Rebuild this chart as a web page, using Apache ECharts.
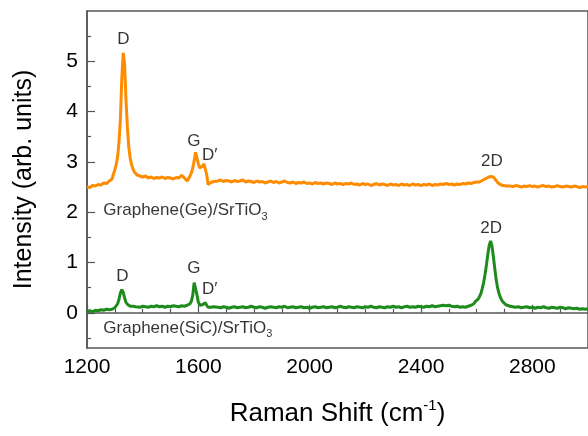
<!DOCTYPE html>
<html>
<head>
<meta charset="utf-8">
<script src="https://cdn.jsdelivr.net/npm/echarts@6/dist/echarts.min.js"></script>
<style>
    html,body{margin:0;padding:0;background:#fff;}
    #raman{width:588px;height:436px;}
</style>
</head>
<body>
<div id="raman"></div>
<script>
// Raman shift (cm-1), finer steps around the peaks
var shift = [
    1200,1210,1220,1230,1240,1250,1260,1270,1280,1290,
    1295,1300,1305,1310,1315,1320,1325,1330,1335,1340,1345,1350,1355,1360,1365,1370,1375,
    1380,1390,1400,1410,1420,1430,1440,1450,1460,1470,1480,1490,1500,1510,1520,1530,1540,1550,
    1555,1560,1565,1570,1575,1580,1585,1590,1595,1600,1605,1610,1615,1620,1625,1630,1635,1640,1645,1650,1655,1660,
    1670,1680,1690,1700,1710,1720,1730,1740,1750,1760,
    1770,1780,1790,1800,1810,1820,1830,1840,1850,1860,
    1870,1880,1890,1900,1910,1920,1930,1940,1950,1960,
    1970,1980,1990,2000,2010,2020,2030,2040,2050,2060,
    2070,2080,2090,2100,2110,2120,2130,2140,2150,2160,
    2170,2180,2190,2200,2210,2220,2230,2240,2250,2260,
    2270,2280,2290,2300,2310,2320,2330,2340,2350,2360,
    2370,2380,2390,2400,2410,2420,2430,2440,2450,2460,
    2470,2480,2490,2500,2510,2520,2530,2540,2550,2560,
    2570,2580,2590,
    2595,2600,2605,2610,2615,2620,2625,2630,2635,2640,2645,2650,2655,2660,2665,2670,2675,2680,2685,2690,2695,2700,2705,2710,
    2720,2730,2740,2750,2760,2770,2780,2790,2800,2810,
    2820,2830,2840,2850,2860,2870,2880,2890,2900,2910,
    2920,2930,2940,2950,2960,2970,2980,2990,3000
];

// Graphene(Ge)/SrTiO3 (offset spectrum)
var intensityGe = [
    2.50,2.49,2.53,2.52,2.55,2.54,2.58,2.57,2.62,2.66,
    2.76,2.84,2.95,3.10,3.40,3.85,4.65,5.17,4.95,4.25,3.70,3.30,3.08,2.95,2.86,2.80,2.77,
    2.74,2.72,2.70,2.72,2.68,2.70,2.67,2.69,2.68,2.70,2.67,2.69,2.68,2.66,2.69,2.68,2.73,2.68,
    2.65,2.62,2.67,2.72,2.78,2.88,3.02,3.19,3.08,2.96,2.88,2.87,2.92,2.96,2.95,2.75,2.55,2.54,2.59,2.62,2.61,2.63,
    2.62,2.64,2.61,2.63,2.62,2.60,2.63,2.61,2.62,2.64,
    2.60,2.62,2.61,2.59,2.62,2.60,2.61,2.58,2.60,2.62,
    2.59,2.61,2.58,2.60,2.62,2.59,2.58,2.60,2.57,2.59,
    2.58,2.60,2.57,2.58,2.56,2.59,2.57,2.58,2.56,2.58,
    2.57,2.55,2.58,2.56,2.57,2.55,2.57,2.56,2.58,2.55,
    2.56,2.54,2.57,2.55,2.56,2.53,2.55,2.57,2.54,2.56,
    2.55,2.53,2.56,2.54,2.55,2.53,2.56,2.54,2.55,2.53,
    2.56,2.54,2.55,2.53,2.55,2.54,2.56,2.53,2.55,2.54,
    2.56,2.55,2.57,2.55,2.56,2.54,2.56,2.55,2.57,2.56,
    2.58,2.57,2.59,
    2.59,2.60,2.61,2.60,2.62,2.63,2.64,2.66,2.67,2.69,2.70,2.71,2.72,2.70,2.67,2.63,2.59,2.56,2.55,2.54,2.53,2.54,2.52,2.53,
    2.52,2.51,2.53,2.52,2.50,2.52,2.51,2.53,2.51,2.52,
    2.50,2.52,2.53,2.51,2.52,2.50,2.51,2.53,2.51,2.50,
    2.52,2.51,2.50,2.52,2.51,2.49,2.51,2.50,2.51
];

// Graphene(SiC)/SrTiO3
var intensitySiC = [
    0.03,0.04,0.02,0.05,0.04,0.06,0.05,0.07,0.06,0.07,
    0.08,0.10,0.13,0.18,0.27,0.39,0.46,0.41,0.30,0.21,0.17,0.14,0.13,0.12,0.13,0.11,0.12,
    0.12,0.11,0.13,0.12,0.11,0.13,0.12,0.14,0.12,0.13,0.11,0.13,0.12,0.14,0.13,0.12,0.14,0.13,
    0.14,0.15,0.16,0.18,0.23,0.35,0.60,0.58,0.36,0.21,0.15,0.14,0.16,0.19,0.20,0.15,0.11,0.10,0.11,0.10,0.12,0.11,
    0.11,0.10,0.12,0.11,0.09,0.11,0.12,0.10,0.11,0.12,
    0.10,0.11,0.13,0.11,0.10,0.12,0.11,0.09,0.11,0.12,
    0.11,0.10,0.12,0.11,0.13,0.10,0.11,0.12,0.10,0.11,
    0.12,0.10,0.11,0.09,0.11,0.12,0.10,0.11,0.12,0.10,
    0.11,0.12,0.10,0.11,0.13,0.11,0.10,0.12,0.11,0.10,
    0.12,0.11,0.10,0.12,0.11,0.13,0.11,0.10,0.12,0.11,
    0.10,0.12,0.11,0.13,0.11,0.12,0.10,0.12,0.13,0.11,
    0.12,0.11,0.13,0.12,0.11,0.13,0.12,0.14,0.12,0.13,
    0.14,0.15,0.14,0.15,0.13,0.12,0.13,0.11,0.12,0.11,
    0.13,0.15,0.18,
    0.22,0.24,0.27,0.32,0.38,0.48,0.60,0.76,0.95,1.16,1.34,1.43,1.33,1.12,0.88,0.66,0.50,0.39,0.31,0.25,0.21,0.18,0.16,0.15,
    0.13,0.12,0.11,0.12,0.10,0.11,0.12,0.10,0.11,0.09,
    0.11,0.10,0.12,0.10,0.09,0.11,0.10,0.09,0.11,0.10,
    0.08,0.10,0.09,0.08,0.09,0.07,0.08,0.07,0.08
];

// peak / sample labels: [shift, intensity, text]
var labelsGe = [
    [1331, 5.43, 'D'],
    [1584, 3.41, 'G'],
    [1641, 3.13, 'D\u2032'],
    [2655, 3.01, '2D']
];
var labelsSiC = [
    [1327, 0.73, 'D'],
    [1584, 0.89, 'G'],
    [1641, 0.46, 'D\u2032'],
    [2652, 1.68, '2D']
];
var sampleNames = [
    [1257, 2.04, 'Graphene(Ge)/SrTiO{sub|3}'],
    [1257, -0.30, 'Graphene(SiC)/SrTiO{sub|3}']
];

var yMajorTicks = [0, 1, 2, 3, 4, 5];
var yMinorTicks = [-0.5, 0.5, 1.5, 2.5, 3.5, 4.5, 5.5];

var FONT = '"Liberation Sans", Arial, sans-serif';
var AXIS_COLOR = '#555';

function pairs(xs, ys){
    var out = [];
    for(var i=0;i<xs.length;i++){
        out.push([xs[i], ys[i]]);
    }
    return out;
}

function textPoints(list){
    return list.map(function(d){
        return {value: [d[0], d[1]], name: d[2]};
    });
}

var myChart = echarts.init(document.getElementById('raman'));

var option = {
    animation: false,
    grid: {
        left: 87,
        top: 11,
        right: -6,
        bottom: 88,
        show: true,
        borderColor: AXIS_COLOR,
        borderWidth: 1.5,
        backgroundColor: 'transparent'
    },
    xAxis: {
        type: 'value',
        min: 1200,
        max: 3000,
        interval: 400,
        name: 'Raman Shift (cm{sup|-1})',
        nameLocation: 'middle',
        nameGap: 50,
        nameTextStyle: {
            color: '#000',
            fontFamily: FONT,
            fontSize: 26,
            lineHeight: 32,
            rich: {
                sup: {fontSize: 15, lineHeight: 15, verticalAlign: 'top', fontFamily: FONT, color: '#000'}
            }
        },
        axisLine: {lineStyle: {color: AXIS_COLOR, width: 1.5}},
        axisTick: {inside: true, length: 8, lineStyle: {color: AXIS_COLOR, width: 1.2}},
        minorTick: {show: true, splitNumber: 4, length: 4, lineStyle: {color: AXIS_COLOR, width: 1.2}},
        axisLabel: {
            color: '#000',
            fontFamily: FONT,
            fontSize: 21,
            margin: 9,
            showMaxLabel: false,
            formatter: function(v){ return String(v); }
        },
        splitLine: {show: false}
    },
    yAxis: [
        {
            type: 'value',
            min: -0.7,
            max: 6,
            position: 'left',
            name: 'Intensity (arb. units)',
            nameLocation: 'middle',
            nameGap: 50,
            nameTextStyle: {color: '#000', fontFamily: FONT, fontSize: 25},
            axisLine: {show: true, lineStyle: {color: AXIS_COLOR, width: 1.5}},
            axisTick: {show: true, inside: true, length: 8, customValues: yMajorTicks, lineStyle: {color: AXIS_COLOR, width: 1.2}},
            axisLabel: {customValues: yMajorTicks, color: '#000', fontFamily: FONT, fontSize: 21, margin: 9},
            splitLine: {show: false}
        },
        {
            // minor ticks only
            type: 'value',
            min: -0.7,
            max: 6,
            position: 'left',
            axisLine: {show: false},
            axisTick: {show: true, inside: true, length: 4, customValues: yMinorTicks, lineStyle: {color: AXIS_COLOR, width: 1.2}},
            axisLabel: {show: false},
            splitLine: {show: false}
        }
    ],
    series: [
        {
            name: 'Graphene(Ge)/SrTiO3',
            type: 'line',
            data: pairs(shift, intensityGe),
            showSymbol: false,
            lineStyle: {color: '#ff8c00', width: 3},
            itemStyle: {color: '#ff8c00'},
            z: 3
        },
        {
            name: 'Graphene(SiC)/SrTiO3',
            type: 'line',
            data: pairs(shift, intensitySiC),
            showSymbol: false,
            lineStyle: {color: '#1d8c1d', width: 3},
            itemStyle: {color: '#1d8c1d'},
            z: 3
        },
        {
            // peak names
            type: 'scatter',
            data: textPoints(labelsGe.concat(labelsSiC)),
            symbolSize: 1,
            itemStyle: {color: 'rgba(0,0,0,0)'},
            silent: true,
            label: {
                show: true,
                position: 'inside',
                formatter: function(p){ return p.name; },
                color: '#000',
                fontFamily: FONT,
                fontSize: 17
            },
            z: 4
        },
        {
            // sample names
            type: 'scatter',
            data: textPoints(sampleNames),
            symbolSize: 1,
            itemStyle: {color: 'rgba(0,0,0,0)'},
            silent: true,
            label: {
                show: true,
                position: 'right',
                distance: 0,
                formatter: function(p){ return p.name; },
                color: '#000',
                fontFamily: FONT,
                fontSize: 17,
                lineHeight: 24,
                rich: {
                    sub: {fontSize: 11, lineHeight: 11, verticalAlign: 'bottom', fontFamily: FONT, color: '#000'}
                }
            },
            z: 4
        }
    ]
};

myChart.setOption(option);
</script>
</body>
</html>
